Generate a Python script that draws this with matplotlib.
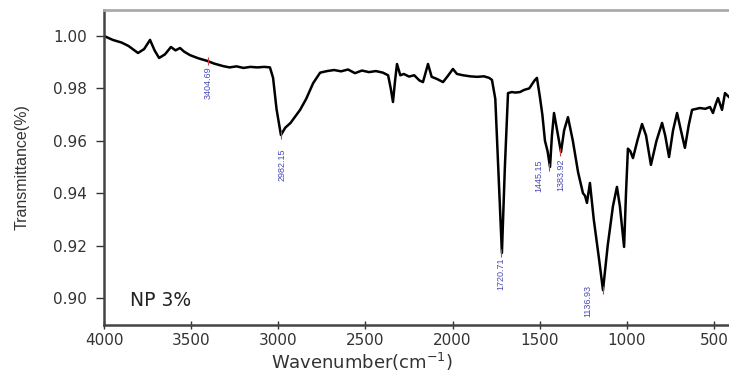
import matplotlib.pyplot as plt

# FTIR spectrum
wavenumber = [4000, 3950, 3900, 3860, 3805, 3770, 3736, 3710, 3684, 3650, 3616, 3590,
              3564, 3540, 3507, 3460, 3409, 3370, 3317, 3280, 3240, 3200, 3160, 3120,
              3080, 3048, 3030, 3010, 2985, 2960, 2930, 2875, 2840, 2800, 2760, 2720,
              2680, 2640, 2600, 2560, 2520, 2480, 2440, 2400, 2370, 2355, 2342, 2330,
              2319, 2300, 2280, 2250, 2220, 2190, 2170, 2141, 2120, 2090, 2055, 2030,
              1998, 1975, 1940, 1900, 1860, 1820, 1790, 1774, 1755, 1735, 1717, 1700,
              1682, 1660, 1640, 1613, 1590, 1560, 1530, 1516, 1499, 1485, 1470, 1455,
              1441, 1430, 1418, 1400, 1378, 1360, 1338, 1310, 1280, 1252, 1240, 1229,
              1212, 1190, 1160, 1137, 1110, 1080, 1057, 1040, 1016, 1005, 994, 980,
              965, 940, 913, 890, 862, 830, 798, 780, 758, 735, 712, 690,
              667, 645, 626, 600, 581, 550, 523, 506, 490, 477, 465, 454,
              437, 414]
transmittance = [1.000, 0.9985, 0.9975, 0.9962, 0.9935, 0.9950, 0.9985, 0.9945, 0.9916, 0.9930, 0.9958, 0.9945,
                 0.9954, 0.9940, 0.9927, 0.9915, 0.9905, 0.9895, 0.9885, 0.9880, 0.9884, 0.9878, 0.9882, 0.9880,
                 0.9882, 0.9880, 0.9840, 0.9720, 0.9622, 0.9650, 0.9668, 0.9718, 0.9760, 0.9820, 0.9860, 0.9866,
                 0.9870, 0.9865, 0.9872, 0.9858, 0.9868, 0.9862, 0.9866, 0.9860, 0.9850, 0.9800, 0.9748, 0.9830,
                 0.9893, 0.9850, 0.9855, 0.9845, 0.9850, 0.9830, 0.9824, 0.9893, 0.9844, 0.9836, 0.9824, 0.9845,
                 0.9874, 0.9855, 0.9850, 0.9846, 0.9844, 0.9846, 0.9840, 0.9832, 0.9760, 0.9450, 0.9172, 0.9500,
                 0.9782, 0.9786, 0.9784, 0.9786, 0.9794, 0.9800, 0.9830, 0.9840, 0.9767, 0.9700, 0.9600, 0.9560,
                 0.9500, 0.9620, 0.9706, 0.9640, 0.9557, 0.9640, 0.9690, 0.9600, 0.9480, 0.9400, 0.9390, 0.9363,
                 0.9439, 0.9300, 0.9150, 0.9030, 0.9200, 0.9350, 0.9424, 0.9350, 0.9195, 0.9400, 0.9570, 0.9560,
                 0.9534, 0.9600, 0.9664, 0.9620, 0.9508, 0.9600, 0.9668, 0.9620, 0.9538, 0.9640, 0.9706, 0.9640,
                 0.9573, 0.9660, 0.9718, 0.9722, 0.9725, 0.9722, 0.9729, 0.9706, 0.9740, 0.9763, 0.9740, 0.9718,
                 0.9782, 0.9767]

peak_wn = [3404.69, 2982.15, 1720.71, 1445.15, 1383.92, 1136.93]
peak_t = [0.9905, 0.9622, 0.9172, 0.9500, 0.9557, 0.9030]
peak_labels = ['3404.69', '2982.15', '1720.71', '1445.15', '1383.92', '1136.93']

# label offsets from the peak point, in pixels (text top edge)
label_off = [(0, -6), (1, -13), (0, -5), (-10, 7), (1, -6), (-15, 5)]

plt.rcParams['font.family'] = ['DejaVu Sans']

fig = plt.figure(figsize=(7.29, 3.78), dpi=100)
ax = fig.add_axes([0.1427, 0.1402, 0.8573, 0.8333])

ax.plot(wavenumber, transmittance, color='black', lw=1.8)

# peak markers and labels
ax.plot(peak_wn, peak_t, marker=(2, 0, 0), ls='none', color='#d04040', ms=6, mew=0.8)
for w, t, lab, off in zip(peak_wn, peak_t, peak_labels, label_off):
    ax.annotate(lab, (w, t), xytext=off, textcoords='offset pixels', rotation=90,
                ha='center', va='top', fontsize=6.5, color='#4a4ab8',
                family='Liberation Sans')

ax.text(3851, 0.8992, 'NP 3%', fontsize=13.5, color='#222222', va='center')

ax.set_xlim(4000, 414)
ax.set_ylim(0.8897, 1.0099)
ax.set_xticks([4000, 3500, 3000, 2500, 2000, 1500, 1000, 500])
ax.set_yticks([0.90, 0.92, 0.94, 0.96, 0.98, 1.00])
ax.set_yticklabels(['0.90', '0.92', '0.94', '0.96', '0.98', '1.00'])
ax.tick_params(axis='y', direction='out', length=6, width=1, pad=6, labelsize=11, colors='#333333')
ax.tick_params(axis='x', direction='inout', length=6, width=1, pad=3, labelsize=11, colors='#333333')

ax.spines['right'].set_visible(False)
ax.spines['top'].set_color('#aaaaaa')
ax.spines['top'].set_linewidth(2)
ax.spines['left'].set_color('#444444')
ax.spines['left'].set_linewidth(1.8)
ax.spines['bottom'].set_color('#444444')
ax.spines['bottom'].set_linewidth(1.8)

ax.set_ylabel('Transmittance(%)', fontsize=11.5, color='#333333',
              family='Liberation Sans', va='center')
ax.yaxis.set_label_coords(-0.131, 0.5)
ax.set_xlabel('Wavenumber(cm$^{-1}$)', fontsize=13, color='#333333', va='center')
ax.xaxis.set_label_coords(0.413, -0.118)

fig.savefig('out.png', dpi=100)
